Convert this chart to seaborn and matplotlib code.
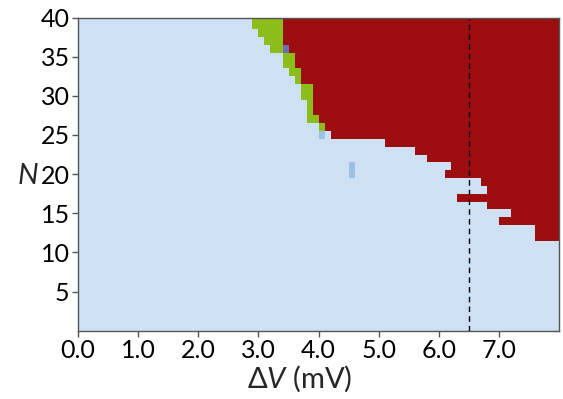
import numpy as np
import pandas as pd
import matplotlib
matplotlib.use("Agg")
import matplotlib.pyplot as plt
import seaborn as sns
from matplotlib.colors import ListedColormap

# ---- data -------------------------------------------------------------
dv = np.round(np.arange(80) * 0.1, 1)          # Delta V grid (mV): 0.0 .. 7.9
N_vals = np.arange(40, -1, -1)                 # N rows, top -> bottom

# red region (per N): first Delta V that is red
red_N    = [40, 39, 38, 37, 36, 35, 34, 33, 32, 31, 30, 29, 28, 27, 26, 25,
            24, 23, 22, 21, 20, 19, 18, 17, 16, 15, 14, 13, 12]
red_from = [3.4, 3.4, 3.4, 3.4, 3.5, 3.6, 3.6, 3.7, 3.7, 3.9, 3.9, 3.9, 3.9, 4.0, 4.1, 4.2,
            5.1, 5.6, 5.8, 6.2, 6.1, 6.7, 6.8, 6.3, 6.8, 7.2, 7.0, 7.6, 7.6]

# green band (per N)
green_N    = [40, 39, 38, 37, 36, 35, 34, 33, 32, 31, 30, 29, 28, 27, 26]
green_from = [2.9, 2.9, 3.0, 3.1, 3.2, 3.4, 3.4, 3.5, 3.6, 3.7, 3.7, 3.8, 3.8, 3.8, 4.0]
green_to   = [3.3, 3.3, 3.3, 3.3, 3.3, 3.5, 3.5, 3.6, 3.6, 3.8, 3.8, 3.8, 3.8, 3.9, 4.0]

# isolated cells
purple_cells = [(3.4, 36)]
mblue_cells  = [(4.0, 25), (4.5, 21), (4.5, 20)]

dashed_dv = 6.5
xtick_vals = [0.0, 1.0, 2.0, 3.0, 4.0, 5.0, 6.0, 7.0]
ytick_vals = [5, 10, 15, 20, 25, 30, 35, 40]

colors = ["#cde0f4", "#9c0d0f", "#8bbe1b", "#6b6db5", "#9ec1e3"]

# ---- build category matrix -------------------------------------------
M = np.zeros((len(N_vals), len(dv)), dtype=int)
row_of = {n: i for i, n in enumerate(N_vals)}
eps = 1e-6
for n, r in zip(red_N, red_from):
    M[row_of[n], dv >= r - eps] = 1
for n, a, b in zip(green_N, green_from, green_to):
    M[row_of[n], (dv >= a - eps) & (dv <= b + eps)] = 2
for x, n in purple_cells:
    M[row_of[n], np.argmin(np.abs(dv - x))] = 3
for x, n in mblue_cells:
    M[row_of[n], np.argmin(np.abs(dv - x))] = 4

df = pd.DataFrame(M, index=N_vals, columns=dv)

# ---- plot --------------------------------------------------------------
sns.set_style("white")
plt.rcParams["font.family"] = ["Lato", "DejaVu Sans"]
plt.rcParams["mathtext.fontset"] = "custom"
plt.rcParams["mathtext.rm"] = "Lato"
plt.rcParams["mathtext.it"] = "Lato:italic"

fig = plt.figure(figsize=(5.63, 3.99), dpi=100)
ax = fig.add_axes([0.1385, 0.1712, 0.8549, 0.7849])

sns.heatmap(df, cmap=ListedColormap(colors), vmin=-0.5, vmax=4.5, cbar=False,
            ax=ax, xticklabels=False, yticklabels=False)

nrow = len(N_vals)
ax.set_ylim(nrow - 0.5, 0.5)
ax.set_xlim(0, len(dv))

xt = [int(np.argmin(np.abs(dv - v))) for v in xtick_vals]
ax.set_xticks(xt)
ax.set_xticklabels([f"{v:.1f}" for v in xtick_vals], fontsize=18)
yt = [row_of[v] + 0.5 for v in ytick_vals]
ax.set_yticks(yt)
ax.set_yticklabels([str(v) for v in ytick_vals], fontsize=18, rotation=0)

ax.tick_params(axis="both", which="both", direction="out", length=4, width=1,
               color="#555555", labelcolor="black", pad=2,
               bottom=True, left=True)

for s in ax.spines.values():
    s.set_visible(True)
    s.set_color("#555555")
    s.set_linewidth(1.0)

xd = int(np.argmin(np.abs(dv - dashed_dv)))
ax.axvline(xd, color="black", linestyle=(0, (4, 3)), linewidth=1.0)

ax.set_xlabel(r"$\Delta V$ (mV)", fontsize=21, va="center", ha="center")
ax.xaxis.set_label_coords(0.461, -0.155)
ax.set_ylabel(r"$N$", fontsize=21, rotation=0, va="center", ha="center")
ax.yaxis.set_label_coords(-0.104, 0.494)

fig.savefig("out.png", dpi=100)
